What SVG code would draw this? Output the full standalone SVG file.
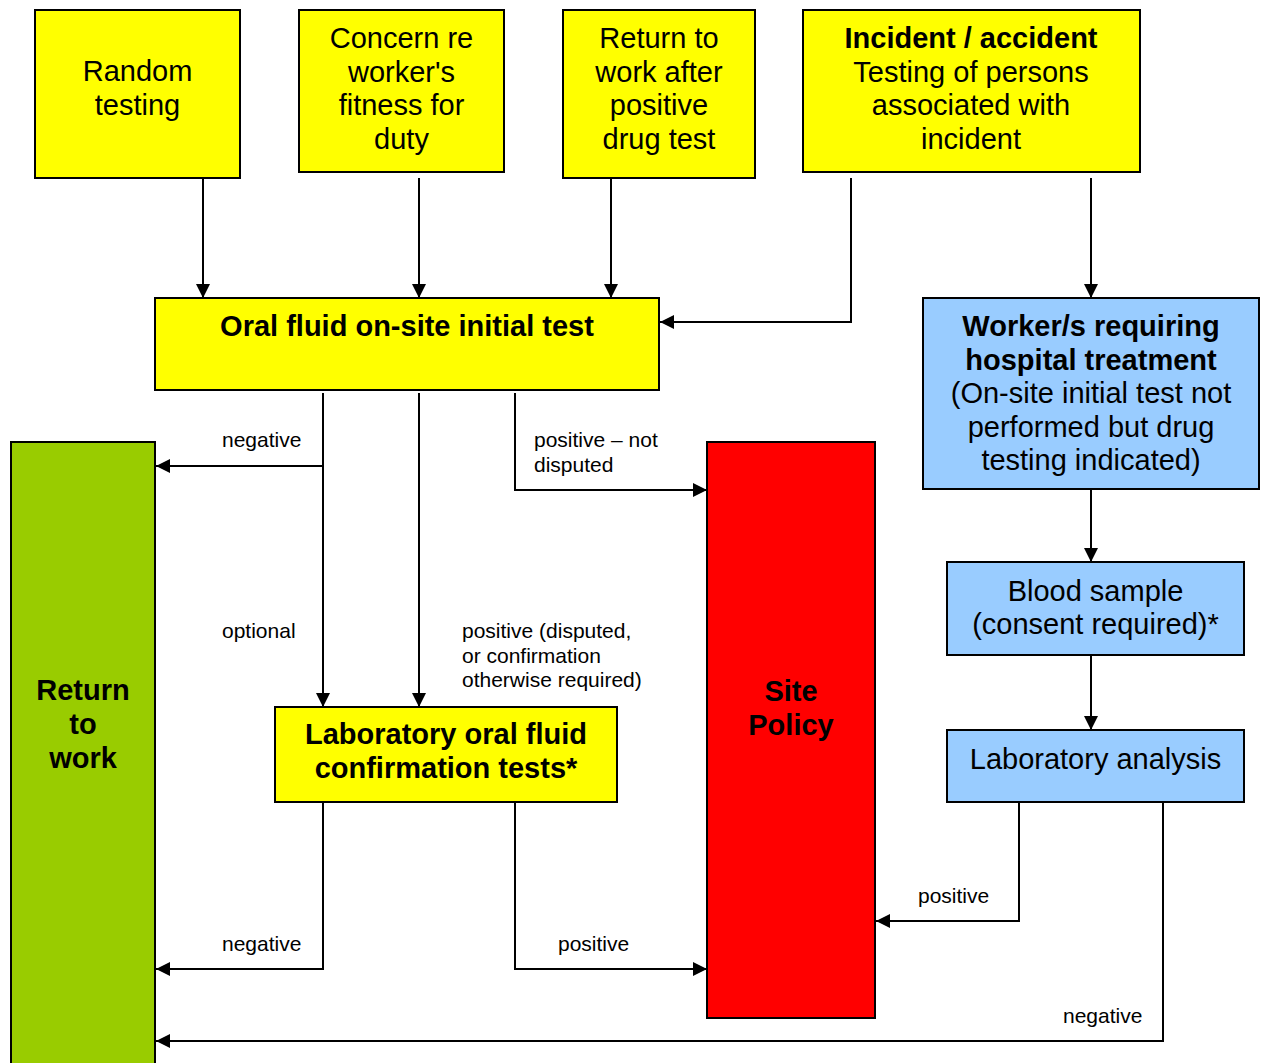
<svg xmlns="http://www.w3.org/2000/svg" width="1261" height="1063" viewBox="0 0 1261 1063">
<style>
.box{stroke:#000;stroke-width:2}
.y{fill:#FFFF00}.g{fill:#99CC00}.r{fill:#FF0000}.b{fill:#99CCFF}
.t{font-family:"Liberation Sans",Arial,sans-serif;font-size:29px;fill:#000;text-anchor:middle}
.bd{font-weight:bold}
.l{font-family:"Liberation Sans",Arial,sans-serif;font-size:21px;fill:#000}
.c{fill:none;stroke:#000;stroke-width:2;marker-end:url(#ah)}
</style>
<defs>
<marker id="ah" viewBox="0 0 14 14" refX="14" refY="7" markerWidth="14" markerHeight="14" markerUnits="userSpaceOnUse" orient="auto">
<path d="M0,0 L14,7 L0,14 Z" fill="#000"/>
</marker>
</defs>
<rect width="1261" height="1063" fill="#fff"/>
<g id="random">
<rect class="box y" x="35" y="10" width="205" height="168"/>
<text class="t" x="137.5" y="81">Random</text>
<text class="t" x="137.5" y="114.5">testing</text>
</g>
<g id="concern">
<rect class="box y" x="299" y="10" width="205" height="162"/>
<text class="t" x="401.5" y="48">Concern re</text>
<text class="t" x="401.5" y="81.5">worker's</text>
<text class="t" x="401.5" y="115">fitness for</text>
<text class="t" x="401.5" y="148.5">duty</text>
</g>
<g id="returnafter">
<rect class="box y" x="563" y="10" width="192" height="168"/>
<text class="t" x="659" y="48">Return to</text>
<text class="t" x="659" y="81.5">work after</text>
<text class="t" x="659" y="115">positive</text>
<text class="t" x="659" y="148.5">drug test</text>
</g>
<g id="incident">
<rect class="box y" x="803" y="10" width="337" height="162"/>
<text class="t bd" x="971" y="48">Incident / accident</text>
<text class="t" x="971" y="81.5">Testing of persons</text>
<text class="t" x="971" y="115">associated with</text>
<text class="t" x="971" y="148.5">incident</text>
</g>
<g id="oral">
<rect class="box y" x="155" y="298" width="504" height="92"/>
<text class="t bd" x="407" y="336">Oral fluid on-site initial test</text>
</g>
<g id="hospital">
<rect class="box b" x="923" y="298" width="336" height="191"/>
<text class="t bd" x="1091" y="336">Worker/s requiring</text>
<text class="t bd" x="1091" y="369.5">hospital treatment</text>
<text class="t" x="1091" y="403">(On-site initial test not</text>
<text class="t" x="1091" y="436.5">performed but drug</text>
<text class="t" x="1091" y="470">testing indicated)</text>
</g>
<g id="returnwork">
<rect class="box g" x="11" y="442" width="144" height="630"/>
<text class="t bd" x="83" y="700">Return</text>
<text class="t bd" x="83" y="734">to</text>
<text class="t bd" x="83" y="768">work</text>
</g>
<g id="sitepolicy">
<rect class="box r" x="707" y="442" width="168" height="576"/>
<text class="t bd" x="791" y="701">Site</text>
<text class="t bd" x="791" y="735">Policy</text>
</g>
<g id="labconfirm">
<rect class="box y" x="275" y="707" width="342" height="95"/>
<text class="t bd" x="446" y="744">Laboratory oral fluid</text>
<text class="t bd" x="446" y="778">confirmation tests*</text>
</g>
<g id="blood">
<rect class="box b" x="947" y="562" width="297" height="93"/>
<text class="t" x="1095.5" y="601">Blood sample</text>
<text class="t" x="1095.5" y="634">(consent required)*</text>
</g>
<g id="labanalysis">
<rect class="box b" x="947" y="730" width="297" height="72"/>
<text class="t" x="1095.5" y="769">Laboratory analysis</text>
</g>
<g id="connectors">
<path class="c" d="M203,178 V298"/>
<path class="c" d="M419,178 V298"/>
<path class="c" d="M611,178 V298"/>
<path class="c" d="M851,178 V322 H660"/>
<path class="c" d="M1091,178 V298"/>
<path class="c" d="M323,393 V707"/>
<path class="c" d="M323,466 H156"/>
<path class="c" d="M419,393 V707"/>
<path class="c" d="M515,393 V490 H707"/>
<path class="c" d="M1091,489 V562"/>
<path class="c" d="M1091,655 V730"/>
<path class="c" d="M1019,802 V921 H876"/>
<path class="c" d="M1163,802 V1041 H156"/>
<path class="c" d="M323,802 V969 H156"/>
<path class="c" d="M515,802 V969 H707"/>
<text class="l" x="222" y="447">negative</text>
<text class="l" x="534" y="447">positive – not</text>
<text class="l" x="534" y="472">disputed</text>
<text class="l" x="222" y="638">optional</text>
<text class="l" x="462" y="638">positive (disputed,</text>
<text class="l" x="462" y="663">or confirmation</text>
<text class="l" x="462" y="687">otherwise required)</text>
<text class="l" x="222" y="951">negative</text>
<text class="l" x="558" y="951">positive</text>
<text class="l" x="918" y="903">positive</text>
<text class="l" x="1063" y="1023">negative</text>
</g>
</svg>
